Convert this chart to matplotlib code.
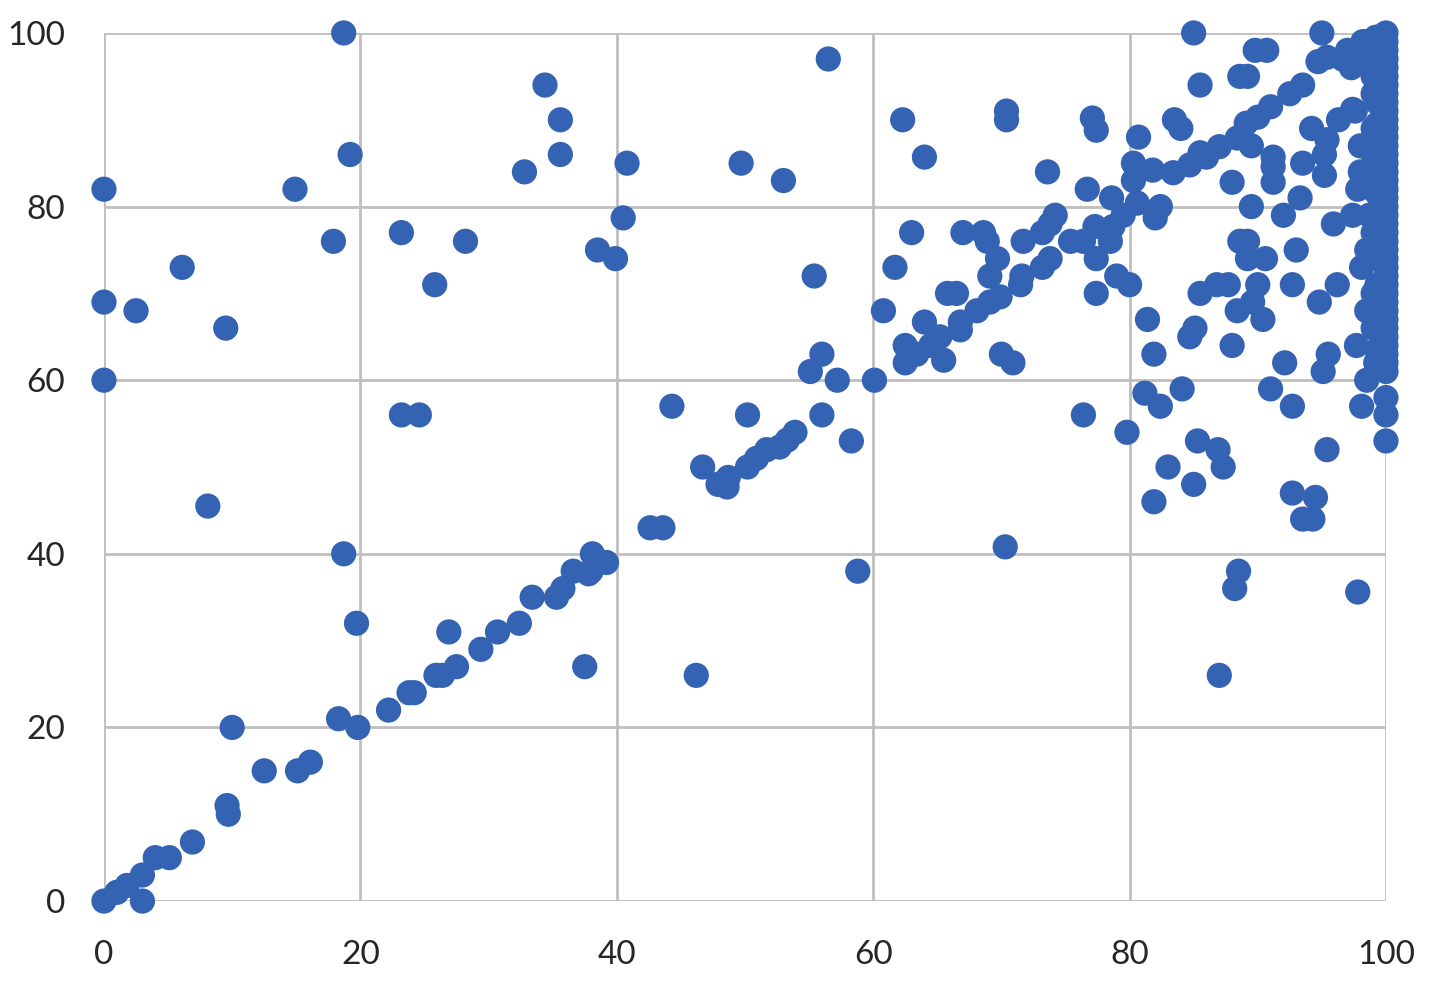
import matplotlib
matplotlib.use("Agg")
import matplotlib.pyplot as plt
import numpy as np

# points lying close to the diagonal
diag_x = [0, 1, 1.8, 3, 4, 5.1, 6.9, 9.6, 9.7, 12.5, 15.1, 16.1, 18.3, 19.8,
          22.2, 23.8, 24.2, 25.9, 26.4, 26.9, 27.5, 29.4, 30.7, 32.4, 33.4,
          35.3, 35.8, 36.6, 38, 38.1, 39.2, 37.8, 42.6, 43.6,
          46.7, 47.9, 48.7, 48.6, 50.2, 50.9, 51.7, 52.7, 53.3, 53.9,
          55.1, 56, 57.2, 60.1, 60.8, 62.5, 62.5, 63.4, 64, 64.5, 65.2, 65.5,
          65.8, 66.5, 66.8, 66.8, 68.1, 69.1, 69.9, 71.5, 71.6, 73.2, 73.8,
          73.2, 73.8, 74.2, 75.4, 76.4, 77.3, 78.5, 78.7, 78.6, 79.5, 80.6,
          80.3, 80.3, 81.8, 82.4, 82, 83.4, 84.7, 85.5, 86, 87, 88.4, 89.1,
          90, 91, 92.5, 93.5, 94.7, 95.4, 96.6, 98.2, 98.5, 99, 99, 99, 99,
          97, 97.8, 98.4, 99.2, 99.5, 97.3]
diag_y = [0, 1, 1.8, 3, 5, 5, 6.8, 11, 10, 15, 15, 16, 21, 20,
          22, 24, 24, 26, 26, 31, 27, 29, 31, 32, 35,
          35, 36, 38, 38, 40, 39, 37.7, 43, 43,
          50, 48, 48.8, 47.7, 50, 51, 52, 52.3, 53.1, 54,
          61, 63, 60, 60, 68, 62, 64, 63, 66.7, 64, 65, 62.3,
          70, 70, 66.7, 65.8, 68, 69, 69.6, 71, 72, 73, 74,
          77, 78, 79, 76, 76, 77.7, 76, 77.7, 81, 79, 80.4,
          85, 83, 84.2, 80, 78.7, 83.9, 84.8, 86.2, 85.7, 86.9, 87.9, 89.6,
          90.3, 91.5, 93, 94, 96.7, 97.2, 97, 99, 99, 97, 95, 93, 89,
          98, 97.5, 98, 99.5, 97, 96]

# scattered points off the diagonal
off_x = [3, 10, 19.7, 18.7, 8.1, 0, 0, 0, 2.5, 6.1, 9.5,
         14.9, 17.9, 18.7, 19.2, 23.2, 23.2, 24.6, 25.8, 28.2,
         32.8, 34.4, 35.6, 35.6, 37.5, 38.5, 39.9, 40.5, 40.8,
         44.3, 46.2, 49.7, 50.2, 53, 55.4, 56, 56.5, 58.3, 58.8,
         61.7, 62.3, 63, 64, 67, 68.6, 68.9, 69.7, 69.1, 70.4, 70.4,
         70, 70.9, 70.3, 71.7, 73.6, 76.4, 76.7, 77.1, 77.4, 77.4, 77.4,
         79, 80, 79.8, 80.7, 81.4, 81.2, 81.9, 81.9, 82.4, 83,
         83.5, 84, 84.1, 84.7, 85.1, 85, 85, 85.3, 85.5, 85.5, 86.9, 87.3, 87,
         86.8, 87.7, 88, 88, 88.4, 88.5, 88.2, 88.6, 89.2, 89.2, 88.6, 89.2,
         89.5, 89.5, 89.6, 89.8, 90.7, 90.6, 90, 90.4, 91, 91.2, 91.2, 91.2,
         92, 92.7, 92.1, 92.7, 92.7, 93, 93.3, 93.5, 93.5, 94.2, 94.3, 94.5,
         94.8, 95, 95.2, 95.2, 95.5, 95.1, 95.4, 95.4, 95.9, 96.2, 96.3,
         97.4, 97.6, 97.4, 97.7, 97.8, 97.8, 98, 98, 98.1, 98.1, 98.5, 98.5,
         98.5, 98.7, 99, 99, 99, 99, 99, 99.2]
off_y = [0, 20, 32, 40, 45.5, 60, 69, 82, 68, 73, 66,
         82, 76, 100, 86, 77, 56, 56, 71, 76,
         84, 94, 90, 86, 27, 75, 74, 78.7, 85,
         57, 26, 85, 56, 83, 72, 56, 97, 53, 38,
         73, 90, 77, 85.7, 77, 77, 76, 74, 72, 91, 90,
         63, 62, 40.8, 76, 84, 56, 82, 90.2, 88.8, 74, 70,
         72, 71, 54, 88, 67, 58.5, 63, 46, 57, 50,
         90, 89, 59, 65, 66, 100, 48, 53, 70, 94, 52, 50, 26,
         71, 71, 82.8, 64, 68, 38, 36, 76, 76, 74, 95, 95,
         87, 80, 69, 98, 98, 74, 71, 67, 59, 85.7, 84.6, 82.8,
         79, 71, 62, 57, 47, 75, 81, 85, 44, 89, 44, 46.5,
         69, 100, 86, 83.6, 63, 61, 52, 87.7, 78, 71, 90,
         91.2, 91, 79, 64, 35.6, 82, 87, 84, 73, 57, 75, 68,
         60, 79, 86, 82, 77, 70, 66, 62]

# column of points sitting at x = 100 (and just left of it)
col_y = [100, 99, 98, 97, 96, 95, 94, 93, 92, 91, 90, 89, 88, 87, 86, 85,
         84, 83, 82, 81, 80, 79, 78, 77, 76, 75, 74, 73, 72, 71, 70, 69,
         68, 67, 66, 65, 64, 63, 62, 61, 58, 56, 53]
col_x = [100] * len(col_y)
near_y = [99.5, 97.5, 95, 92, 89.5, 87, 84.5, 81.5, 79, 76.5, 74, 71,
          68.5, 66, 63.5]
near_x = [99.3] * len(near_y)

all_x = diag_x + off_x + col_x + near_x
all_y = diag_y + off_y + col_y + near_y

plt.rcParams["font.family"] = ["Lato", "DejaVu Sans"]

fig = plt.figure(figsize=(14.34, 9.84), dpi=100)
ax = fig.add_axes([0.0725, 0.0843, 0.8940, 0.8822])

ax.scatter(all_x, all_y, s=330, color="#3563B3", edgecolors="none",
           zorder=3, clip_on=False)

ax.set_xlim(0, 100)
ax.set_ylim(0, 100)
ax.set_xticks(np.arange(0, 101, 20))
ax.set_yticks(np.arange(0, 101, 20))
ax.grid(True, color="#BFBFBF", linewidth=2.0, zorder=0)
for s in ax.spines.values():
    s.set_visible(False)
ax.tick_params(axis="both", length=0, labelsize=24, labelcolor="#262626")
ax.tick_params(axis="x", pad=28)
ax.tick_params(axis="y", pad=28)

plt.savefig("out.png", dpi=100)
